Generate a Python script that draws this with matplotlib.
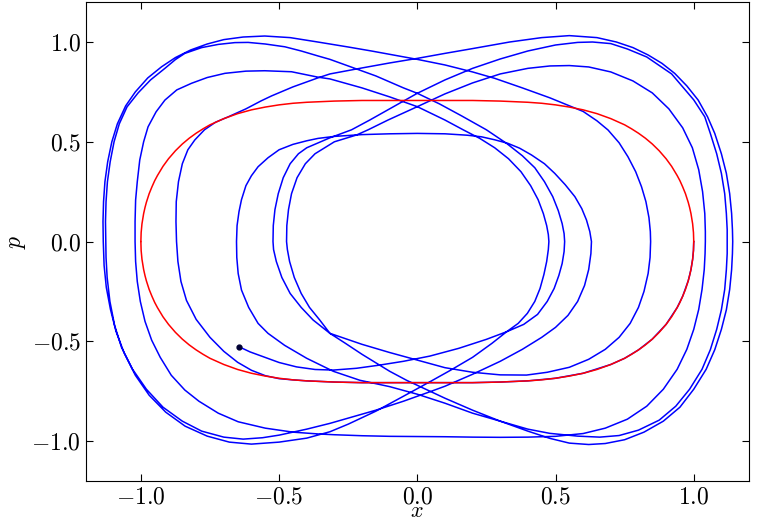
import matplotlib
matplotlib.use("Agg")
import matplotlib.pyplot as plt

plt.rcParams['font.family'] = 'serif'
plt.rcParams['font.serif'] = ['cmr10']
plt.rcParams['mathtext.fontset'] = 'cm'
plt.rcParams['axes.formatter.use_mathtext'] = True

# red closed orbit, upper half (lower half is its mirror image)
red_x = [-1.0, -0.999, -0.996, -0.99, -0.985, -0.98, -0.97, -0.96, -0.95, -0.94, -0.92, -0.9, -0.875, -0.85,
         -0.825, -0.8, -0.775, -0.75, -0.7, -0.65, -0.6, -0.55, -0.5, -0.45, -0.4, -0.3, -0.2, -0.1, 0.0,
         0.1, 0.2, 0.3, 0.4, 0.45, 0.5, 0.55, 0.6, 0.65, 0.7, 0.75, 0.775, 0.8, 0.825, 0.85, 0.875, 0.9,
         0.92, 0.94, 0.95, 0.96, 0.97, 0.98, 0.985, 0.99, 0.996, 0.999, 1.0]
red_p = [0.0, 0.045, 0.089, 0.14, 0.171, 0.197, 0.24, 0.274, 0.305, 0.331, 0.377, 0.415, 0.455, 0.489,
         0.518, 0.543, 0.565, 0.585, 0.616, 0.641, 0.66, 0.674, 0.685, 0.693, 0.698, 0.704, 0.707, 0.707, 0.707,
         0.707, 0.707, 0.704, 0.698, 0.693, 0.685, 0.674, 0.66, 0.641, 0.616, 0.585, 0.565, 0.543, 0.518, 0.489,
         0.455, 0.415, 0.377, 0.331, 0.305, 0.274, 0.24, 0.197, 0.171, 0.14, 0.089, 0.045, 0.0]

# blue trajectory, half-turn by half-turn (upper arcs run left->right, lower arcs right->left)
arc_s_x = [1.0, 0.999, 0.996, 0.99, 0.98, 0.96, 0.94, 0.9, 0.85, 0.8, 0.75, 0.7, 0.6, 0.5, 0.4, 0.3, 0.2, 0.0,
           -0.2, -0.3, -0.4, -0.45, -0.5, -0.55, -0.6, -0.65, -0.7, -0.75, -0.8, -0.835, -0.855, -0.866, -0.871]
arc_s_p = [0.0, -0.045, -0.089, -0.14, -0.197, -0.274, -0.331, -0.415, -0.489, -0.543, -0.585, -0.616, -0.66,
           -0.685, -0.698, -0.704, -0.707, -0.707, -0.707, -0.704, -0.698, -0.693, -0.687, -0.672, -0.645, -0.605,
           -0.55, -0.48, -0.39, -0.295, -0.2, -0.1, 0.0]
arc_t5_x = [-0.871, -0.873, -0.872, -0.864, -0.85, -0.83, -0.805, -0.77, -0.73, -0.684, -0.62, -0.565, -0.527, -0.45,
            -0.36, -0.316, -0.2, -0.1, 0.0, 0.1, 0.2, 0.334, 0.45, 0.55, 0.65, 0.72, 0.78, 0.835, 0.885, 0.931,
            0.975, 1.016, 1.05, 1.076, 1.1, 1.118, 1.13, 1.137, 1.14, 1.141]
arc_t5_p = [0.0, 0.1, 0.2, 0.3, 0.39, 0.46, 0.509, 0.56, 0.598, 0.625, 0.665, 0.705, 0.73, 0.775,
            0.82, 0.84, 0.87, 0.895, 0.918, 0.943, 0.967, 1.0, 1.022, 1.032, 1.022, 1.0, 0.972, 0.935, 0.893, 0.843,
            0.78, 0.709, 0.625, 0.542, 0.44, 0.342, 0.24, 0.141, 0.06, 0.0]
arc_b7_x = [1.141, 1.14, 1.137, 1.13, 1.118, 1.1, 1.076, 1.045, 1.0, 0.95, 0.89, 0.82, 0.75, 0.68, 0.62, 0.55,
            0.479, 0.4, 0.3, 0.2, 0.1, 0.0, -0.039, -0.1, -0.2, -0.26, -0.316, -0.353, -0.39, -0.42, -0.445,
            -0.462, -0.47, -0.473]
arc_b7_p = [0.0, -0.06, -0.141, -0.24, -0.342, -0.44, -0.542, -0.64, -0.74, -0.83, -0.9, -0.955, -0.993, -1.012,
            -1.017, -1.01, -0.986, -0.95, -0.9, -0.845, -0.785, -0.72, -0.695, -0.65, -0.565, -0.51, -0.46, -0.393,
            -0.33, -0.26, -0.18, -0.1, -0.04, 0.0]
arc_t7_x = [-0.473, -0.472, -0.466, -0.455, -0.435, -0.405, -0.37, -0.3, -0.22, -0.178, -0.106, 0.0, 0.1, 0.2, 0.3,
            0.4, 0.48, 0.55, 0.62, 0.7, 0.78, 0.85, 0.91, 0.96, 0.995, 1.018, 1.032, 1.04, 1.042, 1.042]
arc_t7_p = [0.0, 0.08, 0.16, 0.24, 0.32, 0.39, 0.44, 0.5, 0.534, 0.56, 0.609, 0.676, 0.74, 0.795, 0.84,
            0.868, 0.88, 0.882, 0.875, 0.85, 0.805, 0.745, 0.665, 0.57, 0.47, 0.36, 0.25, 0.14, 0.05, 0.0]
arc_b3_x = [1.042, 1.041, 1.038, 1.03, 1.018, 1.0, 0.975, 0.94, 0.89, 0.83, 0.76, 0.68, 0.6, 0.5, 0.4, 0.3, 0.2,
            0.1, 0.0, -0.1, -0.2, -0.3, -0.359, -0.45, -0.55, -0.648, -0.72, -0.79, -0.841, -0.89, -0.93, -0.961,
            -0.985, -1.002, -1.013, -1.019, -1.021]
arc_b3_p = [0.0, -0.06, -0.14, -0.24, -0.34, -0.44, -0.54, -0.64, -0.74, -0.825, -0.89, -0.935, -0.962, -0.976,
            -0.98, -0.981, -0.98, -0.978, -0.977, -0.976, -0.973, -0.968, -0.964, -0.955, -0.935, -0.903, -0.86,
            -0.8, -0.744, -0.67, -0.58, -0.494, -0.4, -0.3, -0.2, -0.1, 0.0]
arc_t3_x = [-1.021, -1.021, -1.019, -1.013, -1.004, -0.99, -0.974, -0.945, -0.913, -0.87, -0.817, -0.76, -0.696,
            -0.62, -0.552, -0.455, -0.36, -0.316, -0.2, -0.1, 0.0, 0.1, 0.166, 0.226, 0.28, 0.33, 0.375, 0.41,
            0.437, 0.456, 0.468, 0.474, 0.476]
arc_t3_p = [0.0, 0.1, 0.208, 0.3, 0.409, 0.5, 0.575, 0.65, 0.709, 0.76, 0.793, 0.822, 0.843,
            0.854, 0.856, 0.851, 0.824, 0.815, 0.77, 0.725, 0.676, 0.609, 0.56, 0.517, 0.47, 0.415, 0.35, 0.28,
            0.21, 0.14, 0.08, 0.035, 0.0]
arc_b5_x = [0.476, 0.474, 0.468, 0.458, 0.444, 0.425, 0.398, 0.365, 0.323, 0.27, 0.2, 0.12, 0.045, -0.05, -0.15,
            -0.25, -0.316, -0.4, -0.5, -0.6, -0.68, -0.76, -0.84, -0.91, -0.97, -1.02, -1.06, -1.09, -1.11,
            -1.125, -1.133, -1.136]
arc_b5_p = [0.0, -0.04, -0.1, -0.165, -0.235, -0.3, -0.36, -0.41, -0.452, -0.51, -0.58, -0.645, -0.703, -0.775,
            -0.85, -0.915, -0.953, -0.985, -1.005, -1.015, -1.005, -0.975, -0.925, -0.855, -0.77, -0.67, -0.56,
            -0.45, -0.34, -0.23, -0.12, 0.0]
arc_t1_x = [-1.136, -1.137, -1.135, -1.13, -1.12, -1.105, -1.085, -1.055, -1.02, -0.975, -0.925, -0.875, -0.82,
            -0.76, -0.7, -0.63, -0.552, -0.46, -0.36, -0.25, -0.166, -0.08, 0.0, 0.1, 0.2, 0.28, 0.38, 0.48, 0.55,
            0.6, 0.65, 0.69, 0.73, 0.762, 0.79, 0.811, 0.827, 0.838, 0.843, 0.844]
arc_t1_p = [0.0, 0.1, 0.2, 0.3, 0.4, 0.5, 0.59, 0.68, 0.75, 0.82, 0.876, 0.922, 0.96,
            0.99, 1.012, 1.025, 1.03, 1.022, 1.0, 0.975, 0.955, 0.933, 0.913, 0.885, 0.85, 0.818, 0.77, 0.72, 0.68,
            0.652, 0.605, 0.559, 0.495, 0.425, 0.35, 0.275, 0.2, 0.12, 0.05, 0.0]
arc_b2_x = [0.844, 0.842, 0.835, 0.82, 0.8, 0.77, 0.73, 0.68, 0.62, 0.55, 0.47, 0.395, 0.3, 0.2, 0.1, 0.045,
            -0.05, -0.1, -0.2, -0.316, -0.377, -0.42, -0.46, -0.49, -0.51, -0.52, -0.522]
arc_b2_p = [0.0, -0.08, -0.16, -0.25, -0.33, -0.41, -0.48, -0.54, -0.59, -0.63, -0.655, -0.669, -0.668, -0.655,
            -0.632, -0.611, -0.575, -0.556, -0.515, -0.46, -0.393, -0.33, -0.26, -0.18, -0.1, -0.04, 0.0]
arc_t6_x = [-0.522, -0.521, -0.515, -0.503, -0.485, -0.46, -0.43, -0.4, -0.316, -0.238, -0.172, -0.1, 0.0, 0.1,
            0.2, 0.3, 0.4, 0.5, 0.58, 0.634, 0.7, 0.76, 0.83, 0.92, 1.0, 1.04, 1.06, 1.083, 1.1, 1.112, 1.118,
            1.121, 1.121]
arc_t6_p = [0.0, 0.08, 0.16, 0.24, 0.32, 0.39, 0.44, 0.47, 0.52, 0.56, 0.609, 0.665, 0.743, 0.81,
            0.868, 0.915, 0.955, 0.985, 0.998, 1.0, 0.992, 0.965, 0.925, 0.84, 0.71, 0.625, 0.542, 0.44, 0.342,
            0.24, 0.141, 0.06, 0.0]
arc_b6_x = [1.121, 1.121, 1.118, 1.112, 1.1, 1.083, 1.06, 1.03, 0.985, 0.935, 0.875, 0.8, 0.73, 0.66, 0.58, 0.479,
            0.4, 0.3, 0.2, 0.1, 0.0, -0.1, -0.208, -0.304, -0.4, -0.48, -0.54, -0.576, -0.61, -0.636, -0.648,
            -0.653, -0.654]
arc_b6_p = [0.0, -0.06, -0.141, -0.24, -0.342, -0.44, -0.542, -0.64, -0.74, -0.825, -0.895, -0.945, -0.972, -0.98,
            -0.975, -0.961, -0.94, -0.9, -0.86, -0.81, -0.765, -0.727, -0.695, -0.65, -0.585, -0.52, -0.46, -0.41,
            -0.33, -0.243, -0.16, -0.08, 0.0]
arc_t4_x = [-0.654, -0.652, -0.645, -0.636, -0.62, -0.6, -0.576, -0.54, -0.5, -0.45, -0.4, -0.359, -0.3, -0.2,
            -0.1, 0.0, 0.1, 0.18, 0.232, 0.28, 0.328, 0.37, 0.413, 0.46, 0.497, 0.535, 0.57, 0.595, 0.612, 0.624,
            0.63]
arc_t4_p = [0.0, 0.08, 0.15, 0.21, 0.28, 0.33, 0.375, 0.42, 0.46, 0.487, 0.505, 0.517, 0.527, 0.536,
            0.54, 0.542, 0.54, 0.533, 0.525, 0.51, 0.492, 0.468, 0.434, 0.39, 0.342, 0.285, 0.225, 0.165, 0.108,
            0.05, 0.0]
arc_b4_x = [0.63, 0.628, 0.62, 0.605, 0.58, 0.545, 0.5, 0.45, 0.38, 0.3, 0.2, 0.1, 0.045, -0.05, -0.15, -0.25,
            -0.316, -0.4, -0.5, -0.56, -0.63, -0.7, -0.78, -0.85, -0.92, -0.98, -1.03, -1.07, -1.095, -1.112,
            -1.122, -1.126, -1.127]
arc_b4_p = [0.0, -0.06, -0.14, -0.22, -0.3, -0.37, -0.43, -0.48, -0.54, -0.6, -0.665, -0.725, -0.753, -0.8,
            -0.845, -0.885, -0.911, -0.94, -0.97, -0.983, -0.99, -0.98, -0.95, -0.9, -0.83, -0.74, -0.64, -0.53,
            -0.42, -0.3, -0.18, -0.08, 0.0]
arc_t2_x = [-1.127, -1.128, -1.126, -1.121, -1.111, -1.097, -1.078, -1.05, -1.01, -0.965, -0.913, -0.875, -0.841,
            -0.78, -0.72, -0.66, -0.612, -0.55, -0.479, -0.42, -0.359, -0.316, -0.25, -0.15, -0.05, 0.0, 0.08,
            0.16, 0.25, 0.323, 0.38, 0.425, 0.46, 0.49, 0.51, 0.524, 0.531, 0.533]
arc_t2_p = [0.0, 0.1, 0.2, 0.3, 0.4, 0.5, 0.59, 0.675, 0.745, 0.81, 0.868, 0.912, 0.943,
            0.972, 0.988, 0.997, 0.998, 0.99, 0.976, 0.955, 0.93, 0.913, 0.88, 0.83, 0.77, 0.743, 0.69,
            0.63, 0.56, 0.492, 0.43, 0.37, 0.3, 0.225, 0.155, 0.09, 0.04, 0.0]
arc_b1_x = [0.533, 0.531, 0.524, 0.512, 0.495, 0.47, 0.435, 0.385, 0.323, 0.25, 0.15, 0.045, -0.05, -0.136, -0.22,
            -0.304, -0.37, -0.437, -0.5, -0.558, -0.605, -0.645]
arc_b1_p = [0.0, -0.05, -0.11, -0.17, -0.235, -0.3, -0.365, -0.415, -0.452, -0.49, -0.535, -0.574, -0.6, -0.619,
            -0.635, -0.644, -0.641, -0.628, -0.606, -0.577, -0.553, -0.527]

arcs = [(arc_s_x, arc_s_p), (arc_t5_x, arc_t5_p), (arc_b7_x, arc_b7_p), (arc_t7_x, arc_t7_p),
        (arc_b3_x, arc_b3_p), (arc_t3_x, arc_t3_p), (arc_b5_x, arc_b5_p), (arc_t1_x, arc_t1_p),
        (arc_b2_x, arc_b2_p), (arc_t6_x, arc_t6_p), (arc_b6_x, arc_b6_p), (arc_t4_x, arc_t4_p),
        (arc_b4_x, arc_b4_p), (arc_t2_x, arc_t2_p), (arc_b1_x, arc_b1_p)]
blue_x, blue_p = [], []
for xs, ps in arcs:
    blue_x += xs
    blue_p += ps

fig = plt.figure(figsize=(7.71, 5.24), dpi=100)
ax = fig.add_axes([0.111, 0.082, 0.8605, 0.914])

ax.plot(blue_x, blue_p, color='blue', lw=1.1)
ax.plot(red_x, red_p, color='red', lw=1.1)
ax.plot(red_x, [-v for v in red_p], color='red', lw=1.1)
ax.plot(blue_x[-1], blue_p[-1], 'o', color='#000033', ms=3.5)

ax.set_xlim(-1.2, 1.2)
ax.set_ylim(-1.2, 1.2)
ax.set_xticks([-1.0, -0.5, 0.0, 0.5, 1.0])
ax.set_yticks([-1.0, -0.5, 0.0, 0.5, 1.0])
ax.tick_params(direction='in', top=True, right=True, labelsize=17, length=5)
ax.set_xlabel('$x$', fontsize=16, labelpad=-5)
ax.set_ylabel('$p$', fontsize=17, labelpad=2)

fig.savefig('out.png', dpi=100)
